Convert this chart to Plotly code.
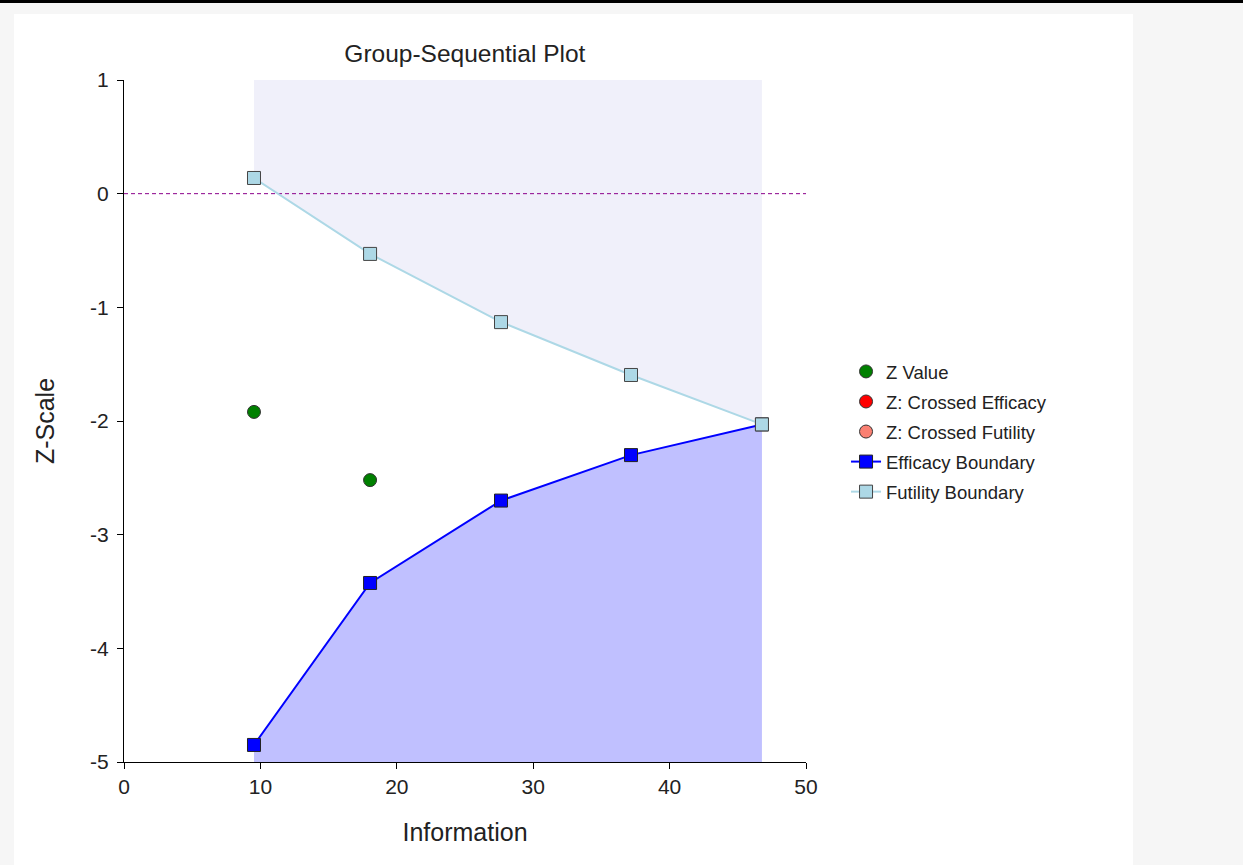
"""Group-sequential boundary plot (efficacy / futility) with observed Z values."""

import plotly.graph_objects as go

# information levels at each look
INFO = [9.53, 18.04, 27.64, 37.17, 46.77]
EFFICACY_Z = [-4.85, -3.425, -2.70, -2.30, -2.03]
FUTILITY_Z = [0.138, -0.53, -1.13, -1.595, -2.03]

# observed Z statistics so far
Z_INFO = [9.53, 18.04]
Z_VALUE = [-1.92, -2.52]

# no looks crossed a boundary
CROSSED_EFF_INFO = [None]
CROSSED_EFF_Z = [None]
CROSSED_FUT_INFO = [None]
CROSSED_FUT_Z = [None]

X_TICKS = [0, 10, 20, 30, 40, 50]
Y_TICKS = [1, 0, -1, -2, -3, -4, -5]
Y_MIN, Y_MAX = -5, 1

_FONT = "Liberation Sans, Arial, sans-serif"
_TEXT = "#222222"
_BLUE = "#0000FF"
_LIGHTBLUE = "#ADD8E6"

fig = go.Figure()

# shaded regions: above futility boundary, below efficacy boundary
fig.add_trace(go.Scatter(
    x=INFO + INFO[::-1], y=FUTILITY_Z + [Y_MAX] * len(INFO),
    fill="toself", fillcolor="#F0F0FA", mode="none",
    showlegend=False, hoverinfo="skip",
))
fig.add_trace(go.Scatter(
    x=INFO + INFO[::-1], y=EFFICACY_Z + [Y_MIN] * len(INFO),
    fill="toself", fillcolor="#C0C0FF", mode="none",
    showlegend=False, hoverinfo="skip",
))

# zero reference line
fig.add_trace(go.Scatter(
    x=[X_TICKS[0], X_TICKS[-1]], y=[0, 0], mode="lines",
    line=dict(color="#8B008B", width=1, dash="4px,3px"),
    showlegend=False, hoverinfo="skip",
))

fig.add_trace(go.Scatter(
    x=Z_INFO, y=Z_VALUE, mode="markers", name="Z Value",
    marker=dict(symbol="circle", size=13, color="#008000",
                line=dict(color="#333333", width=1)),
    legendgroup="a",
))
fig.add_trace(go.Scatter(
    x=CROSSED_EFF_INFO, y=CROSSED_EFF_Z, mode="markers",
    name="Z: Crossed Efficacy",
    marker=dict(symbol="circle", size=13, color="#FF0000",
                line=dict(color="#333333", width=1)),
    legendgroup="b",
))
fig.add_trace(go.Scatter(
    x=CROSSED_FUT_INFO, y=CROSSED_FUT_Z, mode="markers",
    name="Z: Crossed Futility",
    marker=dict(symbol="circle", size=13, color="#FA8072",
                line=dict(color="#333333", width=1)),
    legendgroup="c",
))
fig.add_trace(go.Scatter(
    x=INFO, y=EFFICACY_Z, mode="lines+markers", name="Efficacy Boundary",
    line=dict(color=_BLUE, width=2),
    marker=dict(symbol="square", size=13, color=_BLUE,
                line=dict(color="#222222", width=1)),
    legendgroup="d",
))
fig.add_trace(go.Scatter(
    x=INFO, y=FUTILITY_Z, mode="lines+markers", name="Futility Boundary",
    line=dict(color=_LIGHTBLUE, width=2),
    marker=dict(symbol="square", size=13, color=_LIGHTBLUE,
                line=dict(color="#444444", width=1)),
    legendgroup="e",
))

# page look: grey backdrop, white card, dark rule across the top
fig.add_shape(type="rect", xref="paper", yref="paper",
              x0=-0.1613, x1=1.4795, y0=-0.16, y1=1.0968,
              fillcolor="white", line_width=0, layer="below")
fig.add_shape(type="rect", xref="paper", yref="paper",
              x0=-0.2, x1=1.7, y0=1.1129, y1=1.1173,
              fillcolor="black", line_width=0, layer="below")

fig.update_layout(
    width=1243, height=865,
    margin=dict(l=124, r=437, t=80, b=103),
    paper_bgcolor="#F6F6F6", plot_bgcolor="white",
    font=dict(family=_FONT, color=_TEXT, size=21),
    title=dict(text="Group-Sequential Plot", x=0.374, xanchor="center",
               y=0.938, yanchor="middle", font=dict(size=24.5)),
    showlegend=True,
    legend=dict(x=1.0587, xanchor="left", y=0.484, yanchor="middle",
                font=dict(size=18.5), tracegroupgap=3,
                bgcolor="rgba(0,0,0,0)"),
    xaxis=dict(title=dict(text="Information", standoff=26),
               range=[0, 50], tickvals=X_TICKS,
               ticktext=[str(v) for v in X_TICKS], showgrid=False,
               zeroline=False, showline=True, linecolor="black",
               linewidth=1, ticks="outside", ticklen=6, tickcolor="black"),
    yaxis=dict(title=dict(text="Z-Scale", standoff=28),
               range=[Y_MIN, Y_MAX], tickvals=Y_TICKS,
               ticktext=[str(v) for v in Y_TICKS], showgrid=False,
               zeroline=False, showline=True, linecolor="black",
               linewidth=1, ticks="outside", ticklen=6, tickcolor="black",
               ticklabelstandoff=4),
)

fig.write_html("out.html", config={"displayModeBar": False},
               post_script="document.body.style.margin='0';")
